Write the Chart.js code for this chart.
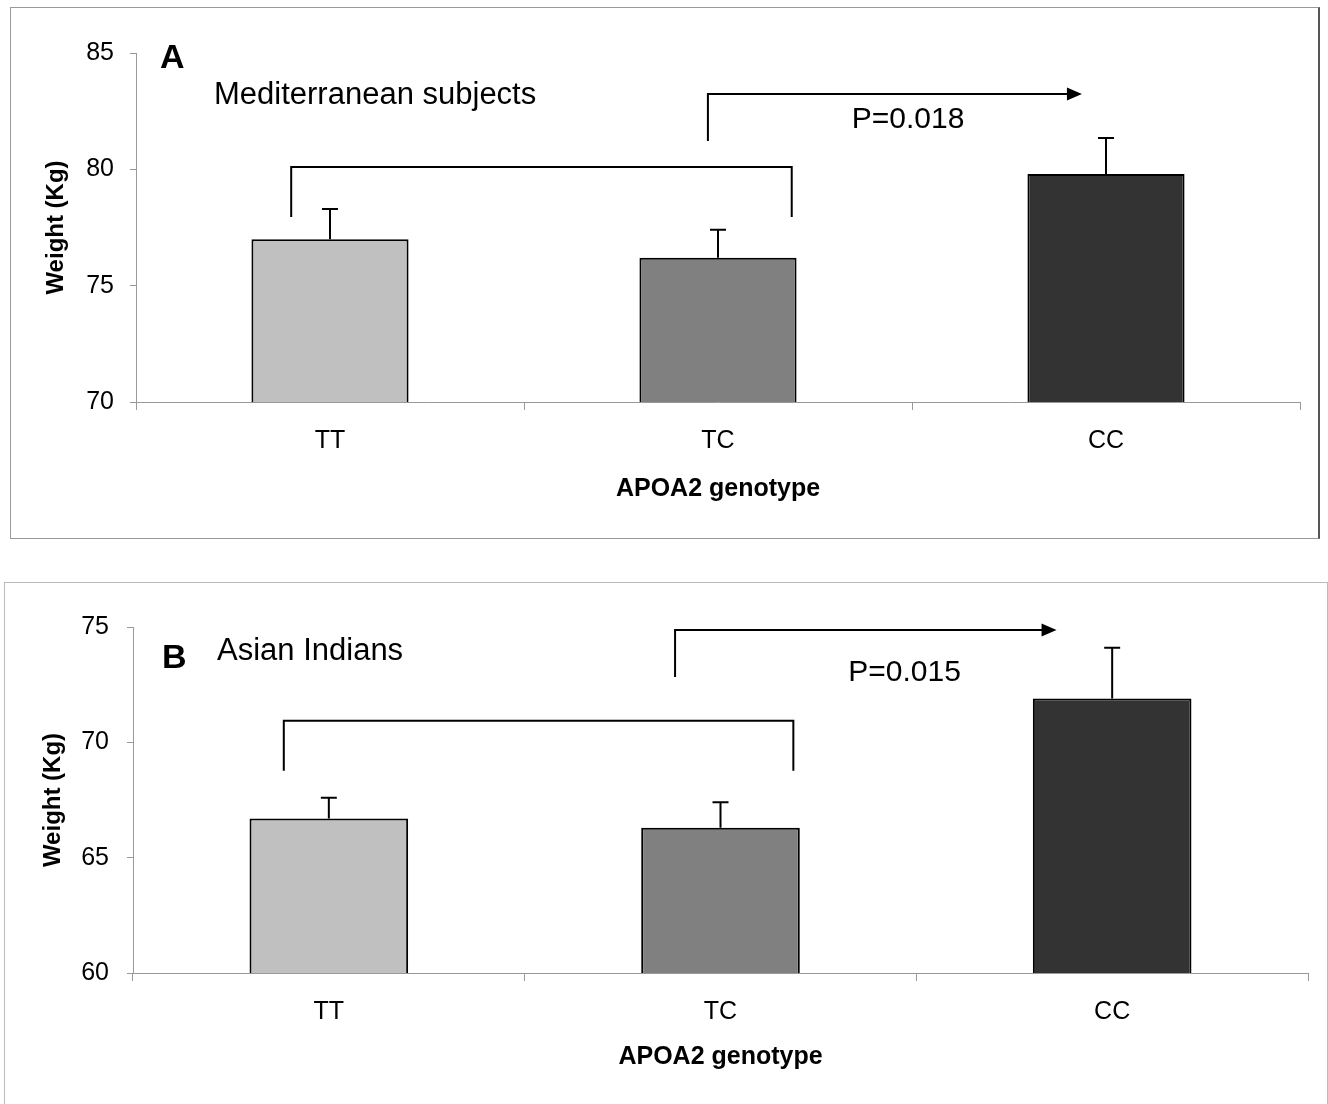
<!DOCTYPE html>
<html>
<head>
<meta charset="utf-8">
<script src="https://cdn.jsdelivr.net/npm/chart.js@4.4.1/dist/chart.umd.min.js"></script>
<style>
body{margin:0;background:#fff;width:1328px;height:1104px;overflow:hidden;position:relative;}
.marco{position:absolute;box-sizing:border-box;}
#marcoA{left:10px;top:7px;width:1310px;height:532px;border:1px solid #999;border-right:2px solid #555;}
#marcoB{left:4px;top:582px;width:1324px;height:530px;border:1px solid #bbb;}
canvas{position:absolute;}
#GraficoA{left:10px;top:7px;}
#GraficoB{left:4px;top:582px;}
</style>
</head>
<body>
<div class="marco" id="marcoA"></div>
<div class="marco" id="marcoB"></div>
<canvas id="GraficoA" width="1310" height="531"></canvas>
<canvas id="GraficoB" width="1323" height="522"></canvas>
<script>
// categorias y datos
var genotipos = ['TT', 'TC', 'CC'];
var coloresBarra = ['#c0c0c0', '#808080', '#333333'];
// A: Mediterranean subjects
var pesoA = [77.0, 76.2, 79.8];
var errorA = [1.3, 1.2, 1.55];
var ticksA = [70, 75, 80, 85];
// B: Asian Indians
var pesoB = [66.7, 66.3, 71.9];
var errorB = [0.9, 1.1, 2.2];
var ticksB = [60, 65, 70, 75];
// corchete: [desde, hasta (unidades de categoria), arriba, pie (kg)]
var corcheteA = [-0.1, 1.19, 80.1, 77.95];
var flechaA = [0.974, 1.938, 83.24, 81.22];
var corcheteB = [-0.115, 1.186, 70.94, 68.77];
var flechaB = [0.884, 1.858, 74.87, 72.83];
// texto P: [x categoria, y kg]
var textoPA = ['P=0.018', 1.49, 82.15];
var textoPB = ['P=0.015', 1.47, 73.03];

var fuente = "Arial, 'Liberation Sans', sans-serif";

// barras de error + anotaciones
var pluginAnotaciones = {
	id: 'anotaciones',
	afterDatasetsDraw: function(chart){
		var ctx = chart.ctx;
		var ys = chart.scales.y;
		var meta = chart.getDatasetMeta(0);
		var op = chart.options.plugins.anotaciones;
		ctx.save();
		ctx.strokeStyle = '#000';
		ctx.lineWidth = 2;
		meta.data.forEach(function(bar, i){
			var v = chart.data.datasets[0].data[i];
			var yTop = ys.getPixelForValue(v + op.errores[i]);
			ctx.beginPath();
			ctx.moveTo(bar.x, bar.y);
			ctx.lineTo(bar.x, yTop);
			ctx.moveTo(bar.x - 8, yTop);
			ctx.lineTo(bar.x + 8, yTop);
			ctx.stroke();
		});
		ctx.restore();
	},
	afterDraw: function(chart){
		var ctx = chart.ctx;
		var xs = chart.scales.x, ys = chart.scales.y;
		var op = chart.options.plugins.anotaciones;
		var x0 = xs.getPixelForValue(0);
		var paso = xs.getPixelForValue(1) - x0;
		function px(u){ return x0 + u * paso; }
		ctx.save();
		ctx.strokeStyle = '#000';
		ctx.fillStyle = '#000';
		ctx.lineWidth = 2;
		// corchete
		var c = op.corchete;
		ctx.beginPath();
		ctx.moveTo(px(c[0]), ys.getPixelForValue(c[3]));
		ctx.lineTo(px(c[0]), ys.getPixelForValue(c[2]));
		ctx.lineTo(px(c[1]), ys.getPixelForValue(c[2]));
		ctx.lineTo(px(c[1]), ys.getPixelForValue(c[3]));
		ctx.stroke();
		// flecha
		var f = op.flecha;
		var fy = ys.getPixelForValue(f[2]);
		var punta = px(f[1]);
		ctx.beginPath();
		ctx.moveTo(px(f[0]), ys.getPixelForValue(f[3]));
		ctx.lineTo(px(f[0]), fy);
		ctx.lineTo(punta - 12, fy);
		ctx.stroke();
		ctx.beginPath();
		ctx.moveTo(punta, fy);
		ctx.lineTo(punta - 15, fy - 6.5);
		ctx.lineTo(punta - 15, fy + 6.5);
		ctx.closePath();
		ctx.fill();
		// texto P
		var t = op.textoP;
		ctx.font = '30px ' + fuente;
		ctx.textAlign = 'center';
		ctx.textBaseline = 'middle';
		ctx.fillText(t[0], px(t[1]), ys.getPixelForValue(t[2]));
		// letra y subtitulo
		ctx.textAlign = 'left';
		ctx.textBaseline = 'alphabetic';
		ctx.font = 'bold 34px ' + fuente;
		ctx.fillText(op.letra[0], op.letra[1], op.letra[2]);
		ctx.font = '31px ' + fuente;
		ctx.fillText(op.subtitulo[0], op.subtitulo[1], op.subtitulo[2]);
		ctx.restore();
	}
};

function GraficoPeso(idCanvas, datos, errores, yticks, config){
	return new Chart(idCanvas, {
		type: 'bar',
		data: {
			labels: genotipos,
			datasets: [{
				data: datos,
				backgroundColor: coloresBarra,
				borderColor: '#000',
				borderWidth: 2,
				borderSkipped: false,
				barPercentage: 1,
				categoryPercentage: 0.405
			}]
		},
		options: {
			responsive: false,
			animation: false,
			layout: { padding: { left: 0, top: config.arriba, right: config.derecha, bottom: 0 } },
			plugins: {
				legend: { display: false },
				tooltip: { enabled: false },
				anotaciones: {
					errores: errores,
					corchete: config.corchete,
					flecha: config.flecha,
					textoP: config.textoP,
					letra: config.letra,
					subtitulo: config.subtitulo
				}
			},
			scales: {
				x: {
					grid: { display: true, drawOnChartArea: false, offset: true, tickLength: 8, color: '#999', lineWidth: 1 },
					border: { color: '#999', width: 1 },
					ticks: { color: '#000', font: { family: fuente, size: 25 }, padding: 16 },
					title: { display: true, text: 'APOA2 genotype', color: '#000', font: { family: fuente, size: 25, weight: 'bold' }, padding: { top: 0, bottom: config.tituloX } },
					afterFit: function(s){ s.height = config.altoX; }
				},
				y: {
					min: yticks[0],
					max: yticks[yticks.length - 1],
					afterBuildTicks: function(s){ s.ticks = yticks.map(function(v){ return { value: v }; }); },
					grid: { display: true, drawOnChartArea: false, tickLength: 6, color: '#999', lineWidth: 1 },
					border: { color: '#999', width: 1 },
					ticks: { color: '#000', font: { family: fuente, size: 25 }, padding: config.padY },
					title: { display: true, text: 'Weight (Kg)', color: '#000', font: { family: fuente, size: 24, weight: 'bold' }, padding: { top: config.tituloY, bottom: 0 } },
					afterFit: function(s){ s.width = config.anchoY; }
				}
			}
		},
		plugins: [pluginAnotaciones]
	});
}

var graficoA = GraficoPeso('GraficoA', pesoA, errorA, ticksA, {
	arriba: 46, derecha: 20, altoX: 136, anchoY: 126, tituloX: 34, tituloY: 32, padY: 16,
	corchete: corcheteA, flecha: flechaA, textoP: textoPA,
	letra: ['A', 150, 61], subtitulo: ['Mediterranean subjects', 204, 97]
});
var graficoB = GraficoPeso('GraficoB', pesoB, errorB, ticksB, {
	arriba: 45, derecha: 19, altoX: 131, anchoY: 129, tituloX: 32, tituloY: 35, padY: 18,
	corchete: corcheteB, flecha: flechaB, textoP: textoPB,
	letra: ['B', 158, 86], subtitulo: ['Asian Indians', 213, 78]
});
</script>
</body>
</html>
